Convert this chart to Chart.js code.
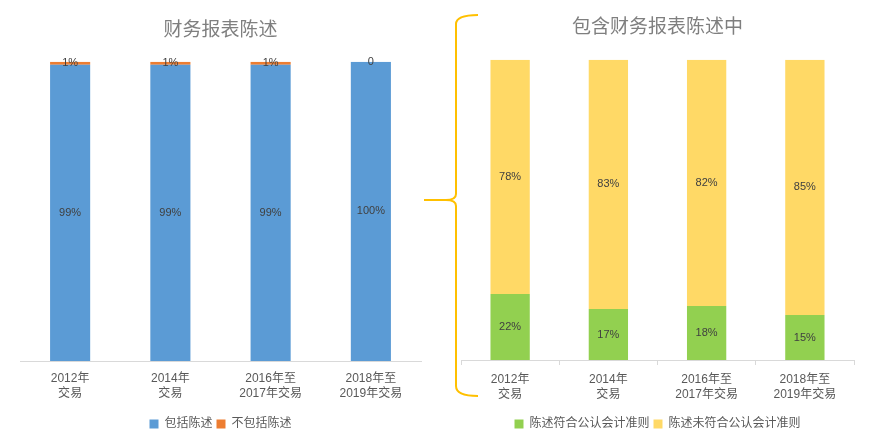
<!DOCTYPE html>
<html>
<head>
<meta charset="utf-8">
<script src="https://cdn.jsdelivr.net/npm/chart.js@4.4.1/dist/chart.umd.min.js"></script>
<style>
  html, body { margin: 0; padding: 0; background: #fff; }
  #wrap { position: relative; width: 871px; height: 440px; overflow: hidden; }
  #leftChart { position: absolute; left: 0; top: 0; }
  #rightChart { position: absolute; left: 435px; top: 0; }
  #brace { position: absolute; left: 0; top: 0; pointer-events: none; }
</style>
</head>
<body>
<div id="wrap">
  <canvas id="leftChart" width="435" height="440"></canvas>
  <canvas id="rightChart" width="436" height="440"></canvas>
  <svg id="brace" width="871" height="440">
    <path d="M478 15 Q456 15 456 24 L456 194 Q456 200 446 200 L424 200 M446 200 Q456 200 456 206 L456 386 Q456 396 478 396"
          fill="none" stroke="#FFC000" stroke-width="2"/>
  </svg>
</div>
<script>
// 横軸ラベル（2行）
const categories = [
    ['2012年', '交易'],
    ['2014年', '交易'],
    ['2016年至', '2017年交易'],
    ['2018年至', '2019年交易']
];

// 左：财务报表陈述
const includedValues = [0.99, 0.99, 0.99, 1.00];
const excludedValues = [0.01, 0.01, 0.01, 0];

// 右：包含财务报表陈述中
const compliantValues = [0.22, 0.17, 0.18, 0.15];
const nonCompliantValues = [0.78, 0.83, 0.82, 0.85];

const FONT = '"Liberation Sans", "Noto Sans CJK SC", sans-serif';
const TEXT_COLOR = '#595959';

// 値ラベル（各セグメントの中央）
function formatValue(v) {
    if (v === 0) return '0';
    return Math.round(v * 100) + '%';
}

const segmentLabels = {
    id: 'segmentLabels',
    afterDatasetsDraw(chart) {
        const ctx = chart.ctx;
        ctx.save();
        ctx.font = '11px ' + FONT;
        ctx.fillStyle = '#404040';
        ctx.textAlign = 'center';
        ctx.textBaseline = 'middle';
        chart.data.datasets.forEach((ds, i) => {
            const meta = chart.getDatasetMeta(i);
            meta.data.forEach((bar, j) => {
                const y = (bar.y + bar.base) / 2;
                ctx.fillText(formatValue(ds.data[j]), bar.x, y);
            });
        });
        ctx.restore();
    }
};

function makeOptions(titleText, titlePad, padding, showTicks, extraAxisHeight) {
    return {
        responsive: false,
        animation: false,
        layout: { padding: padding },
        plugins: {
            title: {
                display: true,
                text: titleText,
                color: '#7f7f7f',
                font: { family: FONT, size: 19, weight: 'normal' },
                padding: titlePad
            },
            legend: {
                position: 'bottom',
                labels: {
                    boxWidth: 9,
                    boxHeight: 9,
                    color: TEXT_COLOR,
                    font: { family: FONT, size: 12 },
                    padding: 4
                }
            },
            tooltip: { enabled: false }
        },
        scales: {
            x: {
                stacked: true,
                border: { display: true, color: '#d9d9d9', width: 1 },
                grid: {
                    display: showTicks,
                    drawOnChartArea: false,
                    drawTicks: showTicks,
                    tickLength: 5,
                    color: '#d9d9d9'
                },
                ticks: {
                    color: TEXT_COLOR,
                    padding: showTicks ? 7 : 10,
                    font: { family: FONT, size: 12, lineHeight: 1.25 },
                    maxRotation: 0
                },
                // 凡例との間隔を調整
                afterFit: function (scale) {
                    scale.height += extraAxisHeight;
                }
            },
            y: {
                stacked: true,
                display: false,
                min: 0,
                max: 1
            }
        }
    };
}

new Chart(document.getElementById('leftChart'), {
    type: 'bar',
    data: {
        labels: categories,
        datasets: [
            {
                label: '包括陈述',
                data: includedValues,
                backgroundColor: '#5B9BD5',
                barPercentage: 0.4,
                categoryPercentage: 1
            },
            {
                label: '不包括陈述',
                data: excludedValues,
                backgroundColor: '#ED7D31',
                barPercentage: 0.4,
                categoryPercentage: 1
            }
        ]
    },
    options: makeOptions('财务报表陈述', { top: 19, bottom: 20 }, { left: 20, right: 14, top: 0, bottom: 0 }, false, 3),
    plugins: [segmentLabels]
});

new Chart(document.getElementById('rightChart'), {
    type: 'bar',
    data: {
        labels: categories,
        datasets: [
            {
                label: '陈述符合公认会计准则',
                data: compliantValues,
                backgroundColor: '#92D050',
                barPercentage: 0.4,
                categoryPercentage: 1
            },
            {
                label: '陈述未符合公认会计准则',
                data: nonCompliantValues,
                backgroundColor: '#FFD966',
                barPercentage: 0.4,
                categoryPercentage: 1
            }
        ]
    },
    options: makeOptions('包含财务报表陈述中', { top: 16, bottom: 21 }, { left: 26, right: 17, top: 0, bottom: 0 }, true, 5),
    plugins: [segmentLabels]
});
</script>
</body>
</html>
